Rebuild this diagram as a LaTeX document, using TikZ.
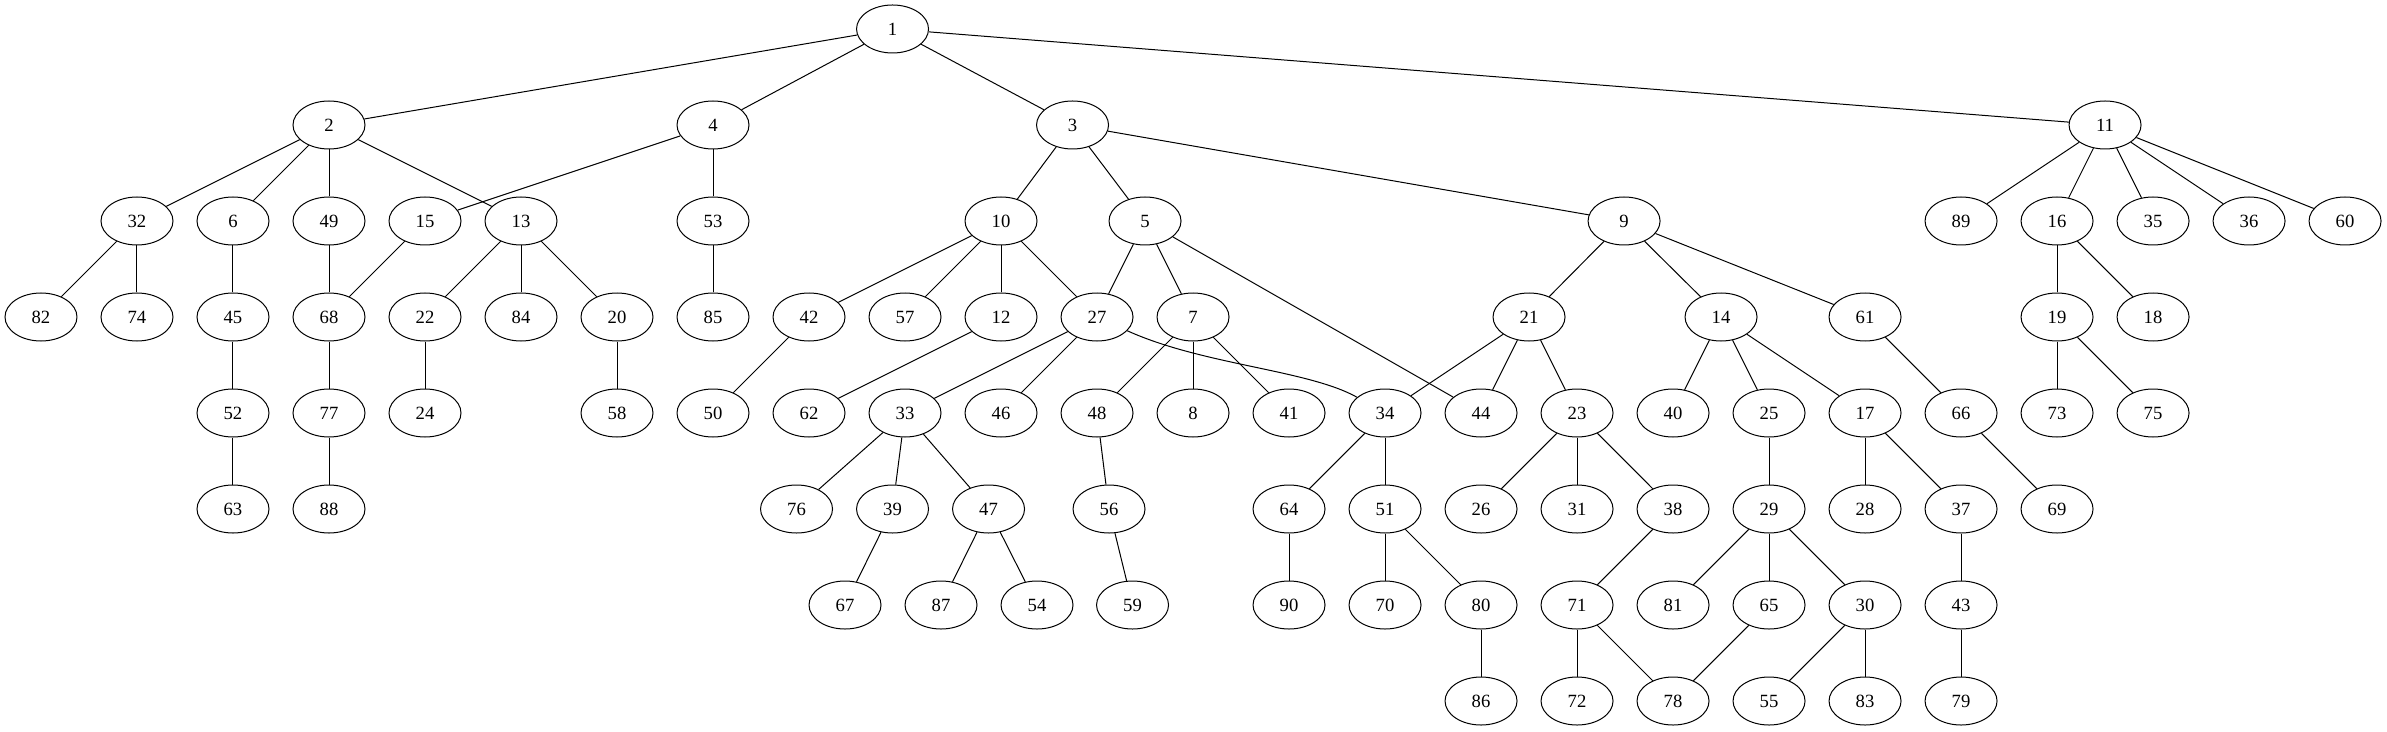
\documentclass[tikz,border=0pt]{standalone}
\usepackage{fontspec}
\setmainfont{Liberation Serif}
\usetikzlibrary{shapes,positioning}

\begin{document}
\begin{tikzpicture}[x=72pt,y=-72pt,line width=0.75pt]
		\tikzstyle{vertex} = [draw,ellipse,minimum width=54pt,minimum height=36pt,inner sep=0pt,font=\fontsize{14pt}{16pt}\selectfont]
		\useasboundingbox (-0.427,-0.302) rectangle (24.437,7.313);
		% Root
		\node[vertex] (v1) at (8.87,0) {1};
		% Level 1
		\node[vertex] (v2) at (3,1) {2} edge [-] (v1);
		\node[vertex] (v4) at (7,1) {4} edge [-] (v1);
		\node[vertex] (v3) at (10.745,1) {3} edge [-] (v1);
		\node[vertex] (v11) at (21.5,1) {11} edge [-] (v1);
		% Level 2
		\node[vertex] (v32) at (1,2) {32} edge [-] (v2);
		\node[vertex] (v6) at (2,2) {6} edge [-] (v2);
		\node[vertex] (v49) at (3,2) {49} edge [-] (v2);
		\node[vertex] (v15) at (4,2) {15} edge [-] (v4);
		\node[vertex] (v13) at (5,2) {13} edge [-] (v2);
		\node[vertex] (v53) at (7,2) {53} edge [-] (v4);
		\node[vertex] (v10) at (10,2) {10} edge [-] (v3);
		\node[vertex] (v5) at (11.5,2) {5} edge [-] (v3);
		\node[vertex] (v9) at (16.49,2) {9} edge [-] (v3);
		\node[vertex] (v89) at (20,2) {89} edge [-] (v11);
		\node[vertex] (v16) at (21,2) {16} edge [-] (v11);
		\node[vertex] (v35) at (22,2) {35} edge [-] (v11);
		\node[vertex] (v36) at (23,2) {36} edge [-] (v11);
		\node[vertex] (v60) at (24,2) {60} edge [-] (v11);
		% Level 3
		\node[vertex] (v82) at (0,3) {82} edge [-] (v32);
		\node[vertex] (v74) at (1,3) {74} edge [-] (v32);
		\node[vertex] (v45) at (2,3) {45} edge [-] (v6);
		\node[vertex] (v68) at (3,3) {68} edge [-] (v49);
		\node[vertex] (v22) at (4,3) {22} edge [-] (v13);
		\node[vertex] (v84) at (5,3) {84} edge [-] (v13);
		\node[vertex] (v20) at (6,3) {20} edge [-] (v13);
		\node[vertex] (v85) at (7,3) {85} edge [-] (v53);
		\node[vertex] (v42) at (8,3) {42} edge [-] (v10);
		\node[vertex] (v57) at (9,3) {57} edge [-] (v10);
		\node[vertex] (v12) at (10,3) {12} edge [-] (v10);
		\node[vertex] (v27) at (11,3) {27} edge [-] (v10);
		\node[vertex] (v7) at (12,3) {7} edge [-] (v5);
		\node[vertex] (v21) at (15.5,3) {21} edge [-] (v9);
		\node[vertex] (v14) at (17.5,3) {14} edge [-] (v9);
		\node[vertex] (v61) at (19,3) {61} edge [-] (v9);
		\node[vertex] (v19) at (21,3) {19} edge [-] (v16);
		\node[vertex] (v18) at (22,3) {18} edge [-] (v16);
		\draw[-] (v15) -- (v68);
		\draw[-] (v5) -- (v27);
		% Level 4
		\node[vertex] (v52) at (2,4) {52} edge [-] (v45);
		\node[vertex] (v77) at (3,4) {77} edge [-] (v68);
		\node[vertex] (v24) at (4,4) {24} edge [-] (v22);
		\node[vertex] (v58) at (6,4) {58} edge [-] (v20);
		\node[vertex] (v50) at (7,4) {50} edge [-] (v42);
		\node[vertex] (v62) at (8,4) {62} edge [-] (v12);
		\node[vertex] (v33) at (9,4) {33} edge [-] (v27);
		\node[vertex] (v46) at (10,4) {46} edge [-] (v27);
		\node[vertex] (v48) at (11,4) {48} edge [-] (v7);
		\node[vertex] (v8) at (12,4) {8} edge [-] (v7);
		\node[vertex] (v41) at (13,4) {41} edge [-] (v7);
		\node[vertex] (v34) at (14,4) {34} edge [-] (v21);
		\node[vertex] (v44) at (15,4) {44} edge [-] (v21);
		\node[vertex] (v23) at (16,4) {23} edge [-] (v21);
		\node[vertex] (v40) at (17,4) {40} edge [-] (v14);
		\node[vertex] (v25) at (18,4) {25} edge [-] (v14);
		\node[vertex] (v17) at (19,4) {17} edge [-] (v14);
		\node[vertex] (v66) at (20,4) {66} edge [-] (v61);
		\node[vertex] (v73) at (21,4) {73} edge [-] (v19);
		\node[vertex] (v75) at (22,4) {75} edge [-] (v19);
		\draw[-] (v5) -- (v44);
		\draw[-] (v27) .. controls (12.1,3.5) and (13.2,3.55) .. (v34);
		% Level 5
		\node[vertex] (v63) at (2,5) {63} edge [-] (v52);
		\node[vertex] (v88) at (3,5) {88} edge [-] (v77);
		\node[vertex] (v76) at (7.87,5) {76} edge [-] (v33);
		\node[vertex] (v39) at (8.87,5) {39} edge [-] (v33);
		\node[vertex] (v47) at (9.87,5) {47} edge [-] (v33);
		\node[vertex] (v56) at (11.125,5) {56} edge [-] (v48);
		\node[vertex] (v64) at (13,5) {64} edge [-] (v34);
		\node[vertex] (v51) at (14,5) {51} edge [-] (v34);
		\node[vertex] (v26) at (15,5) {26} edge [-] (v23);
		\node[vertex] (v31) at (16,5) {31} edge [-] (v23);
		\node[vertex] (v38) at (17,5) {38} edge [-] (v23);
		\node[vertex] (v29) at (18,5) {29} edge [-] (v25);
		\node[vertex] (v28) at (19,5) {28} edge [-] (v17);
		\node[vertex] (v37) at (20,5) {37} edge [-] (v17);
		\node[vertex] (v69) at (21,5) {69} edge [-] (v66);
		% Level 6
		\node[vertex] (v67) at (8.375,6) {67} edge [-] (v39);
		\node[vertex] (v87) at (9.375,6) {87} edge [-] (v47);
		\node[vertex] (v54) at (10.375,6) {54} edge [-] (v47);
		\node[vertex] (v59) at (11.37,6) {59} edge [-] (v56);
		\node[vertex] (v90) at (13,6) {90} edge [-] (v64);
		\node[vertex] (v70) at (14,6) {70} edge [-] (v51);
		\node[vertex] (v80) at (15,6) {80} edge [-] (v51);
		\node[vertex] (v71) at (16,6) {71} edge [-] (v38);
		\node[vertex] (v81) at (17,6) {81} edge [-] (v29);
		\node[vertex] (v65) at (18,6) {65} edge [-] (v29);
		\node[vertex] (v30) at (19,6) {30} edge [-] (v29);
		\node[vertex] (v43) at (20,6) {43} edge [-] (v37);
		% Level 7
		\node[vertex] (v86) at (15,7) {86} edge [-] (v80);
		\node[vertex] (v72) at (16,7) {72} edge [-] (v71);
		\node[vertex] (v78) at (17,7) {78} edge [-] (v71);
		\node[vertex] (v55) at (18,7) {55} edge [-] (v30);
		\node[vertex] (v83) at (19,7) {83} edge [-] (v30);
		\node[vertex] (v79) at (20,7) {79} edge [-] (v43);
		\draw[-] (v65) -- (v78);
\end{tikzpicture}
\end{document}
